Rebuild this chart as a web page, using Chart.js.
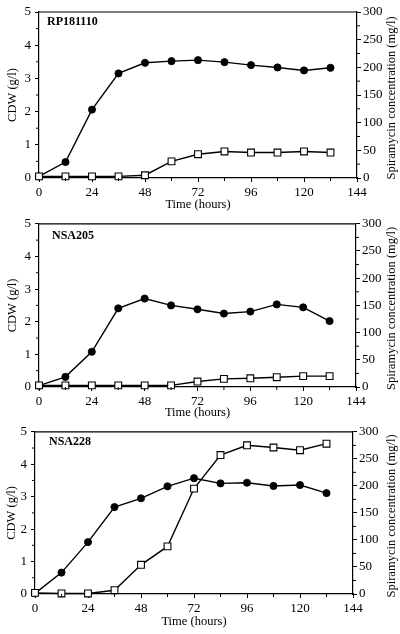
<!DOCTYPE html>
<html>
<head>
<meta charset="utf-8">
<script src="https://cdn.jsdelivr.net/npm/chart.js@4.4.1/dist/chart.umd.min.js"></script>
<style>
  html, body { margin: 0; padding: 0; background: #fff; }
  #page { position: relative; width: 400px; height: 634px; overflow: hidden; }
  canvas { position: absolute; left: 0; }
</style>
</head>
<body>
<div id="page">
  <canvas id="c1" width="400" height="212" style="top:0px"></canvas>
  <canvas id="c2" width="400" height="208" style="top:212px"></canvas>
  <canvas id="c3" width="400" height="214" style="top:420px"></canvas>
</div>
<script>
// sampling times (hours)
const hours = [0, 12, 24, 36, 48, 60, 72, 84, 96, 108, 120, 132];
const xTicks = [0, 24, 48, 72, 96, 120, 144];

// cell dry weight (g/l) and spiramycin (mg/l) for each strain
const rpCdw = [0.05, 0.48, 2.06, 3.15, 3.47, 3.52, 3.55, 3.49, 3.40, 3.33, 3.24, 3.32];
const rpSpira = [3, 3, 3, 3, 5, 30, 43, 48, 46, 46, 48, 46];
const nsa205Cdw = [0.04, 0.31, 1.08, 2.41, 2.71, 2.50, 2.38, 2.25, 2.31, 2.53, 2.44, 2.02];
const nsa205Spira = [3, 3, 3, 3, 3, 3, 10, 15, 16, 18, 20, 20];
const nsa228Cdw = [0.02, 0.66, 1.60, 2.68, 2.95, 3.32, 3.57, 3.41, 3.43, 3.33, 3.36, 3.11];
const nsa228Spira = [2, 1, 1, 7, 54, 88, 195, 257, 275, 271, 266, 278];

const serif = "'Liberation Serif', 'DejaVu Serif', serif";

// draws the frame top, short minor ticks, strain name and right title
const extrasPlugin = {
    id: 'extras',
    afterDraw(chart) {
        const ctx = chart.ctx;
        const area = chart.chartArea;
        const opts = chart.options.plugins.extras;
        ctx.save();
        ctx.strokeStyle = '#000';
        ctx.lineWidth = 1.2;
        // top border
        ctx.beginPath();
        ctx.moveTo(area.left, area.top);
        ctx.lineTo(area.right, area.top);
        ctx.stroke();

        // minor ticks
        ctx.lineWidth = 1;
        const x = chart.scales.x, y = chart.scales.y, y2 = chart.scales.y2;
        ctx.beginPath();
        for (let v = 12; v < 144; v += 24) {
            const px = x.getPixelForValue(v);
            ctx.moveTo(px, area.bottom);
            ctx.lineTo(px, area.bottom + 3);
        }
        for (let v = 0.5; v < 5; v += 1) {
            const py = y.getPixelForValue(v);
            ctx.moveTo(area.left, py);
            ctx.lineTo(area.left - 3, py);
        }
        for (let v = 25; v < 300; v += 50) {
            const py = y2.getPixelForValue(v);
            ctx.moveTo(area.right, py);
            ctx.lineTo(area.right + 3, py);
        }
        ctx.stroke();

        // strain label
        ctx.fillStyle = '#000';
        ctx.font = 'bold 12px ' + serif;
        ctx.textAlign = 'left';
        ctx.textBaseline = 'middle';
        ctx.fillText(opts.label, area.left + opts.labelDx, area.top + opts.labelDy);

        // right axis title, reading bottom to top
        ctx.font = '12.5px ' + serif;
        ctx.textAlign = 'center';
        ctx.translate(392, (area.top + area.bottom) / 2 + 3);
        ctx.rotate(-Math.PI / 2);
        ctx.fillText('Spiramycin concentration (mg/l)', 0, 0);
        ctx.restore();
    }
};

function toPoints(values) {
    return hours.map((h, i) => ({ x: h, y: values[i] }));
}

function makePanel(id, label, cdw, spira, g) {
    const ctx = document.getElementById(id).getContext('2d');
    const tickFont = { family: serif, size: 13 };
    return new Chart(ctx, {
        type: 'line',
        data: {
            datasets: [
                {
                    label: 'Spiramycin',
                    data: toPoints(spira),
                    yAxisID: 'y2',
                    borderColor: '#000',
                    borderWidth: 1.4,
                    pointStyle: 'rect',
                    pointRadius: 4.8,
                    pointBackgroundColor: '#fff',
                    pointBorderColor: '#000',
                    pointBorderWidth: 1.1,
                    tension: 0,
                    clip: false
                },
                {
                    label: 'CDW',
                    data: toPoints(cdw),
                    yAxisID: 'y',
                    borderColor: '#000',
                    borderWidth: 1.4,
                    pointStyle: 'circle',
                    pointRadius: 3.6,
                    pointBorderWidth: 0.8,
                    pointBackgroundColor: '#000',
                    pointBorderColor: '#000',
                    tension: 0,
                    clip: false
                }
            ]
        },
        options: {
            responsive: false,
            animation: false,
            devicePixelRatio: 1,
            layout: { padding: { top: g.top, left: 0, right: 0, bottom: 0 } },
            plugins: {
                legend: { display: false },
                tooltip: { enabled: false },
                extras: { label: label, labelDx: g.labelDx, labelDy: g.labelDy }
            },
            scales: {
                x: {
                    type: 'linear',
                    min: 0,
                    max: 144,
                    afterBuildTicks: (s) => { s.ticks = xTicks.map(v => ({ value: v })); },
                    afterFit: (s) => { s.height = g.xHeight; },
                    grid: { drawOnChartArea: false, tickLength: 4, tickColor: '#000' },
                    border: { color: '#000', width: 1.2 },
                    ticks: { color: '#000', font: tickFont, padding: 3, maxRotation: 0 },
                    title: {
                        display: true,
                        text: 'Time (hours)',
                        color: '#000',
                        font: { family: serif, size: 12.5 },
                        padding: { top: 0, bottom: g.titlePad }
                    }
                },
                y: {
                    position: 'left',
                    min: 0,
                    max: 5,
                    ticks: { stepSize: 1, color: '#000', font: tickFont, padding: 4 },
                    afterFit: (s) => { s.width = g.left; },
                    grid: { drawOnChartArea: false, tickLength: 4, tickColor: '#000' },
                    border: { color: '#000', width: 1.2 },
                    title: {
                        display: true,
                        text: 'CDW (g/l)',
                        color: '#000',
                        font: { family: serif, size: 12.5 },
                        padding: { top: g.yTitlePad, bottom: 0 }
                    }
                },
                y2: {
                    position: 'right',
                    min: 0,
                    max: 300,
                    ticks: { stepSize: 50, color: '#000', font: tickFont, padding: 2 },
                    afterFit: (s) => { s.width = 400 - g.right; },
                    grid: { drawOnChartArea: false, tickLength: 4, tickColor: '#000' },
                    border: { color: '#000', width: 1.2 }
                }
            }
        },
        plugins: [extrasPlugin]
    });
}

makePanel('c1', 'RP181110', rpCdw, rpSpira,
    { top: 12, left: 39, right: 357, xHeight: 34, titlePad: 0, yTitlePad: 5, labelDx: 8, labelDy: 10 });
makePanel('c2', 'NSA205', nsa205Cdw, nsa205Spira,
    { top: 8, left: 39, right: 356, xHeight: 33, titlePad: 0, yTitlePad: 5, labelDx: 13, labelDy: 12 });
makePanel('c3', 'NSA228', nsa228Cdw, nsa228Spira,
    { top: 9, left: 35, right: 353, xHeight: 40, titlePad: 5, yTitlePad: 4, labelDx: 14, labelDy: 10 });
</script>
</body>
</html>
